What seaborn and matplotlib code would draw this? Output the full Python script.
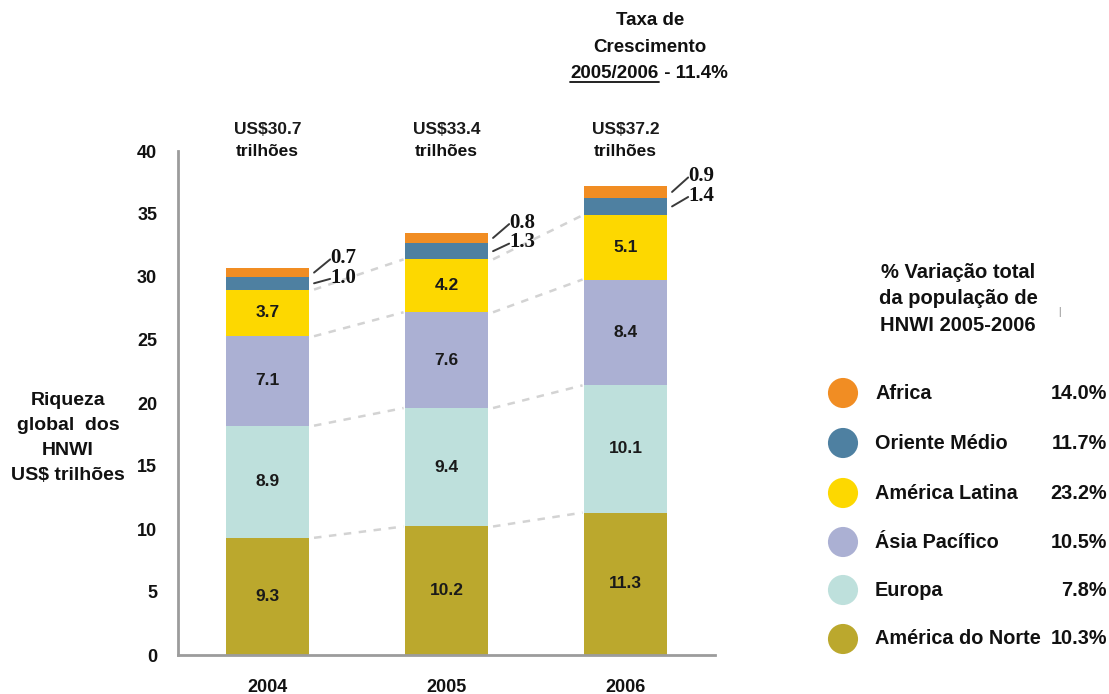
import numpy as np
import pandas as pd
import matplotlib
matplotlib.use("Agg")
import matplotlib.pyplot as plt
import seaborn as sns

# ---- data -------------------------------------------------------------
years = ["2004", "2005", "2006"]
regions = ["América do Norte", "Europa", "Ásia Pacífico",
           "América Latina", "Oriente Médio", "Africa"]
north_america = [9.3, 10.2, 11.3]
europe = [8.9, 9.4, 10.1]
asia_pacific = [7.1, 7.6, 8.4]
latin_america = [3.7, 4.2, 5.1]
middle_east = [1.0, 1.3, 1.4]
africa = [0.7, 0.8, 0.9]
total_labels = ["US$30.7", "US$33.4", "US$37.2"]
# legend order (top to bottom) and HNWI population change 2005-2006
legend_regions = ["Africa", "Oriente Médio", "América Latina",
                  "Ásia Pacífico", "Europa", "América do Norte"]
hnwi_change = ["14.0%", "11.7%", "23.2%", "10.5%", "7.8%", "10.3%"]
y_ticks = [0, 5, 10, 15, 20, 25, 30, 35, 40]

colors = {
    "América do Norte": "#BBA82D",
    "Europa": "#BEE0DC",
    "Ásia Pacífico": "#ABB0D3",
    "América Latina": "#FDD800",
    "Oriente Médio": "#4E80A1",
    "Africa": "#F18D23",
}

layers = [north_america, europe, asia_pacific, latin_america, middle_east, africa]
values = np.array(layers)            # shape (regions, years)
cum = np.cumsum(values, axis=0)      # stacked tops

df = pd.DataFrame({
    "ano": np.tile(years, len(regions)),
    "regiao": np.repeat(regions, len(years)),
    "valor": values.ravel(),
    "acumulado": cum.ravel(),
})

# ---- style ------------------------------------------------------------
sns.set_style("white")
plt.rcParams["font.family"] = ["Liberation Sans", "DejaVu Sans"]
plt.rcParams["font.weight"] = "bold"

W, H = 1109, 694
fig = plt.figure(figsize=(W / 100, H / 100), dpi=100)
ax = fig.add_axes([178 / W, 39 / H, (715 - 178) / W, 504 / H])

BAR_W = 0.46
# stacked bars: draw cumulative heights from the top layer down
for reg in regions[::-1]:
    sub = df[df["regiao"] == reg]
    sns.barplot(data=sub, x="ano", y="acumulado", order=years,
                color=colors[reg], saturation=1, width=BAR_W,
                linewidth=0, ax=ax, zorder=2)

ax.set_xlim(-0.5, 2.5)
ax.set_ylim(0, 40)
ax.set_yticks(y_ticks)
ax.set_xlabel("")
ax.set_ylabel("")

axis_grey = "#9c9c9c"
for side in ["top", "right"]:
    ax.spines[side].set_visible(False)
for side in ["left", "bottom"]:
    ax.spines[side].set_color(axis_grey)
    ax.spines[side].set_linewidth(2)

ax.tick_params(axis="y", direction="out", length=6, width=1.5,
               color=axis_grey, pad=9, labelsize=13)
ax.tick_params(axis="x", length=0, pad=17, labelsize=13)
ax.set_xticks([0.5, 1.5, 2.5], minor=True)
ax.tick_params(axis="x", which="minor", direction="out", length=6,
               width=1.5, color=axis_grey)
for lab in ax.get_xticklabels() + ax.get_yticklabels():
    lab.set_fontweight("bold")
    lab.set_color("#111111")

# values inside the four larger segments
for li in range(4):
    for i in range(len(years)):
        mid = cum[li, i] - values[li, i] / 2
        ax.text(i, mid, f"{values[li, i]:.1f}", ha="center", va="center",
                fontsize=12.5, fontweight="bold", color="#1a1a1a", zorder=4)

# small segments labelled outside with short leader lines
edge = BAR_W / 2
for i in range(len(years)):
    top = cum[5, i]
    specs = [(5, top + 0.8), (4, top - 0.75)]
    for li, ylab in specs:
        mid = cum[li, i] - values[li, i] / 2
        ax.plot([i + edge + 0.03, i + edge + 0.12], [mid, ylab - 0.1],
                color="#3a3a3a", lw=1.4, clip_on=False, zorder=4)
        ax.text(i + edge + 0.12, ylab, f"{values[li, i]:.1f}", ha="left",
                va="center", fontsize=15, fontweight="bold",
                family=["Liberation Serif", "DejaVu Serif"],
                color="#111111", clip_on=False)

# dashed growth guides between neighbouring bars
for li in range(4):
    for i in range(len(years) - 1):
        ax.plot([i + edge + 0.03, i + 1 - edge - 0.01],
                [cum[li, i], cum[li, i + 1]],
                color="#d3d3d3", lw=1.8, ls=(0, (3, 3)), zorder=1)

# totals above the bars
for i, lab in enumerate(total_labels):
    ax.text(i, 41.7, lab, ha="center", va="center", fontsize=12.5,
            fontweight="bold", color="#1a1a1a", clip_on=False)
    ax.text(i, 39.95, "trilhões", ha="center", va="center", fontsize=12.5,
            fontweight="bold", color="#111111", clip_on=False)

# ---- overlay in pixel coordinates for the free-standing text ----------
ov = fig.add_axes([0, 0, 1, 1], facecolor="none")
ov.set_xlim(0, W)
ov.set_ylim(H, 0)
ov.axis("off")

txt = dict(fontweight="bold", color="#111111")

for y, line in zip([400, 425, 450, 475],
                   ["Riqueza", "global  dos", "HNWI", "US$ trilhões"]):
    ov.text(68, y, line, ha="center", va="center", fontsize=14, **txt)

ov.text(650, 20, "Taxa de", ha="center", va="center", fontsize=13.5, **txt)
ov.text(650, 47, "Crescimento", ha="center", va="center", fontsize=13.5, **txt)
part1 = ov.text(0, 73, "2005/2006", ha="left", va="center", fontsize=13.5, **txt)
part2 = ov.text(0, 73, " - 11.4%", ha="left", va="center", fontsize=13.5, **txt)
fig.canvas.draw()
r = fig.canvas.get_renderer()
w1 = part1.get_window_extent(r).width
w2 = part2.get_window_extent(r).width
x0 = 649 - (w1 + w2) / 2
part1.set_x(x0)
part2.set_x(x0 + w1)
ov.plot([x0, x0 + w1], [82, 82], color="#111111", lw=1.3)

for y, line in zip([272, 298, 325],
                   ["% Variação total", "da população de", "HNWI 2005-2006"]):
    ov.text(958, y, line, ha="center", va="center", fontsize=14.5, **txt)
ov.text(1060, 312, "|", ha="center", va="center", fontsize=7, color="#b0b0b0")

leg_y = [393, 443, 493, 542, 590, 639]
ov.scatter([843] * len(leg_y), leg_y,
           c=[colors[r_] for r_ in legend_regions], s=470, linewidths=0)
for y, reg, pct in zip(leg_y, legend_regions, hnwi_change):
    ov.text(875, y, reg, ha="left", va="center", fontsize=14.3, **txt)
    ov.text(1107, y, pct, ha="right", va="center", fontsize=14.3, **txt)

fig.savefig("out.png", dpi=100)
